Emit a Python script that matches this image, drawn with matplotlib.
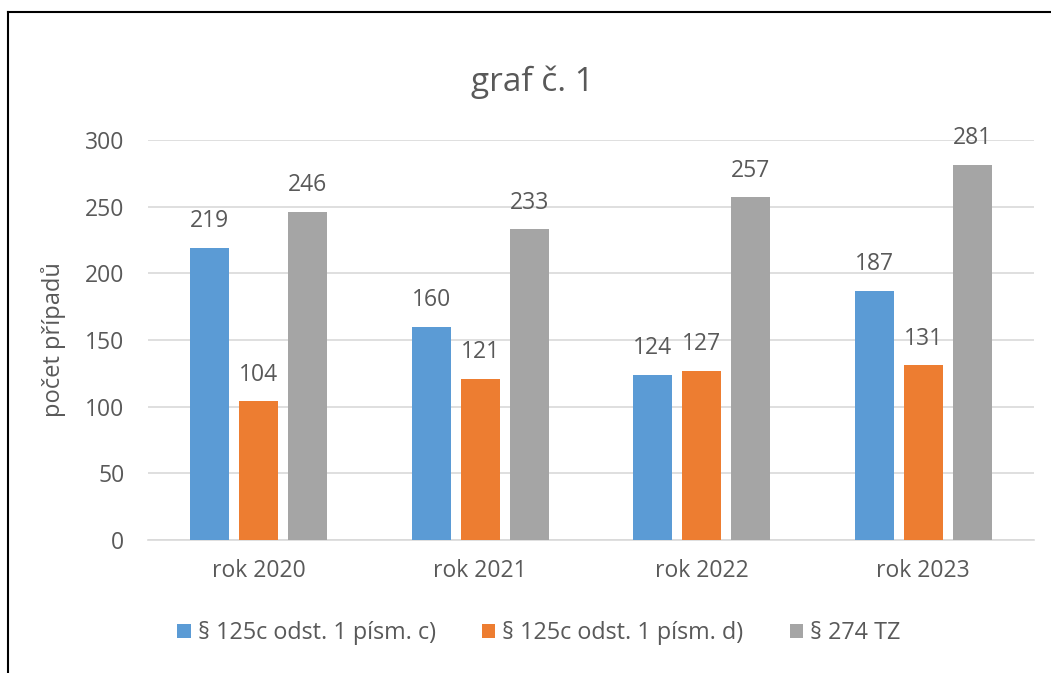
import matplotlib
matplotlib.use("Agg")
import matplotlib.pyplot as plt
from matplotlib.lines import Line2D
import numpy as np

plt.rcParams['font.family'] = ['Open Sans', 'DejaVu Sans']

categories = ["rok 2020", "rok 2021", "rok 2022", "rok 2023"]
series_names = ["§ 125c odst. 1 písm. c)", "§ 125c odst. 1 písm. d)", "§ 274 TZ"]
s_c = [219, 160, 124, 187]
s_d = [104, 121, 127, 131]
s_tz = [246, 233, 257, 281]
colors = ["#5B9BD5", "#ED7D31", "#A5A5A5"]
yticks = [0, 50, 100, 150, 200, 250, 300]

W, H = 1051, 673
fig = plt.figure(figsize=(W / 100, H / 100), dpi=100)
ax = fig.add_axes([148 / W, 1 - 540 / H, (1034 - 148) / W, (540 - 140) / H])

x = np.arange(len(categories))
pitch = 0.221
width = 0.175
text_col = "#595959"
for i, (vals, name, col) in enumerate(zip([s_c, s_d, s_tz], series_names, colors)):
    bars = ax.bar(x + (i - 1) * pitch, vals, width, color=col, label=name, zorder=3)
    for b, v in zip(bars, vals):
        ax.annotate(str(v), (b.get_x() + b.get_width() / 2, v), xytext=(0, 15),
                    textcoords="offset points", ha="center", va="baseline",
                    fontsize=16.5, color=text_col)

ax.set_xlim(-0.5, len(categories) - 0.5)
ax.set_ylim(0, 300)
ax.set_yticks(yticks)
ax.set_xticks(x)
ax.set_xticklabels(categories)
ax.grid(axis="y", color="#D9D9D9", linewidth=1.2, zorder=0)
for s in ["top", "right", "left"]:
    ax.spines[s].set_visible(False)
ax.spines["bottom"].set_color("#D9D9D9")
ax.spines["bottom"].set_linewidth(1.2)
ax.tick_params(axis="both", length=0, labelsize=16.5, labelcolor=text_col)
ax.tick_params(axis="y", pad=17)
ax.tick_params(axis="x", pad=14)
ax.set_ylabel("počet případů", fontsize=17, color=text_col, labelpad=14)

fig.text(532 / W, 1 - 82 / H, "graf č. 1", ha="center", va="center",
         fontsize=24, color=text_col)

fig.legend(loc="center", bbox_to_anchor=(539 / W, 1 - 633 / H), ncol=3,
           frameon=False, fontsize=16.8, handlelength=0.56, handleheight=0.56,
           handletextpad=0.3, columnspacing=2.0, labelcolor=text_col)

# border (top and left edges visible in crop)
fig.add_artist(Line2D([8 / W, 8 / W], [0, 1 - 12 / H], transform=fig.transFigure,
                      color="black", linewidth=1.5))
fig.add_artist(Line2D([8 / W, 1], [1 - 12 / H, 1 - 12 / H], transform=fig.transFigure,
                      color="black", linewidth=1.5))

fig.savefig("out.png", dpi=100)
